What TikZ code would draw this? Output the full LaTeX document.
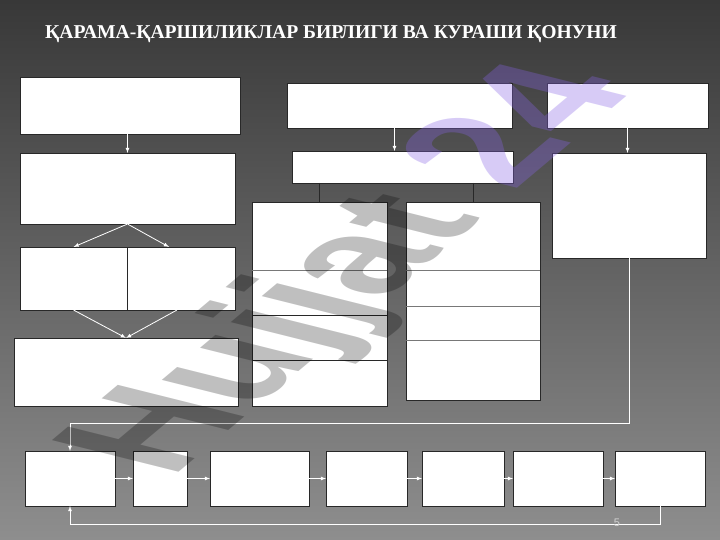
\documentclass[tikz,border=0pt]{standalone}
\usepackage{fontspec}
\setmainfont{Liberation Serif}
\newfontfamily\marksans{Liberation Sans}
\usetikzlibrary{arrows,positioning}
\definecolor{boxline}{RGB}{40,40,40}
\definecolor{splitline}{RGB}{120,120,120}
\definecolor{bgtop}{RGB}{56,56,56}
\definecolor{bgbottom}{RGB}{142,142,142}
\definecolor{markpurple}{RGB}{135,100,230}
\tikzset{
  cell/.style={draw=boxline, fill=white, line width=0.8pt, inner sep=0pt, outer sep=0pt, anchor=north west},
  flow/.style={draw=white, line width=0.8pt, -latex},
  link/.style={draw=boxline, line width=0.8pt}
}

\begin{document}
\begin{tikzpicture}[x=1pt, y=-1pt]
\shade[top color=bgtop, bottom color=bgbottom] (0,0) rectangle (720,540);
\useasboundingbox (0,0) rectangle (720,540);

\node[anchor=base west, inner sep=0pt, text=white, font=\bfseries\fontsize{19.6}{19.6}\selectfont] (title) at (45,38.5) {ҚАРАМА-ҚАРШИЛИКЛАР БИРЛИГИ ВА КУРАШИ ҚОНУНИ};

\node[cell, minimum width=220pt, minimum height=57pt] (top1) at (20,77) {};
\node[cell, minimum width=225pt, minimum height=45pt] (top2) at (287,83) {};
\node[cell, minimum width=161pt, minimum height=45pt] (top3) at (547,83) {};

\node[cell, minimum width=215pt, minimum height=71pt] (mid1) at (20,153) {};
\node[cell, minimum width=221pt, minimum height=32pt] (mid2) at (292,151) {};
\node[cell, minimum width=154pt, minimum height=105pt] (mid3) at (552,153) {};

\node[cell, minimum width=107pt, minimum height=63pt] (pairL) at (20,247) {};
\node[cell, minimum width=108pt, minimum height=63pt, right=0pt of pairL] (pairR) {};
\node[cell, minimum width=224pt, minimum height=68pt] (sum) at (14,338) {};

\node[cell, minimum width=135pt, minimum height=68pt] (colL1) at (252,202) {};
\node[cell, minimum width=135pt, minimum height=45pt, below=0pt of colL1] (colL2) {};
\node[cell, minimum width=135pt, minimum height=45pt, below=0pt of colL2] (colL3) {};
\node[cell, minimum width=135pt, minimum height=46pt, below=0pt of colL3] (colL4) {};
\node[cell, minimum width=134pt, minimum height=68pt] (colR1) at (406,202) {};
\node[cell, minimum width=134pt, minimum height=36pt, below=0pt of colR1] (colR2) {};
\node[cell, minimum width=134pt, minimum height=34pt, below=0pt of colR2] (colR3) {};
\node[cell, minimum width=134pt, minimum height=60pt, below=0pt of colR3] (colR4) {};
\draw[splitline, line width=0.8pt] (colL1.south west) -- (colL1.south east);
\draw[splitline, line width=0.8pt] (colR1.south west) -- (colR1.south east);
\draw[splitline, line width=0.8pt] (colR2.south west) -- (colR2.south east);
\draw[splitline, line width=0.8pt] (colR3.south west) -- (colR3.south east);

\node[cell, minimum width=90pt, minimum height=55pt] (s1) at (25,451) {};
\node[cell, minimum width=54pt, minimum height=55pt, right=18pt of s1] (s2) {};
\node[cell, minimum width=99pt, minimum height=55pt, right=23pt of s2] (s3) {};
\node[cell, minimum width=81pt, minimum height=55pt, right=17pt of s3] (s4) {};
\node[cell, minimum width=82pt, minimum height=55pt, right=15pt of s4] (s5) {};
\node[cell, minimum width=90pt, minimum height=55pt, right=9pt of s5] (s6) {};
\node[cell, minimum width=90pt, minimum height=55pt, right=12pt of s6] (s7) {};

\draw[flow] (top1.south -| mid1.north) -- (mid1.north);
\draw[flow] ([xshift=-5pt]top2.south) -- ([xshift=-5pt]top2.south |- mid2.north);
\draw[flow] (top3.south) -- (top3.south |- mid3.north);
\draw[flow] (mid1.south) -- (pairL.north);
\draw[flow] (mid1.south) -- ([xshift=-12pt]pairR.north);
\draw[flow] (pairL.south) -- (sum.north);
\draw[flow] ([xshift=-4pt]pairR.south) -- (sum.north);
\draw[link] (mid2.south -| colL1.north) -- (colL1.north);
\draw[link] (mid2.south -| colR1.north) -- (colR1.north);
\draw[flow] (mid3.south) |- ([yshift=28pt]s1.north) -- (s1.north);
\draw[flow] (s1.east) -- (s2.west);
\draw[flow] (s2.east) -- (s3.west);
\draw[flow] (s3.east) -- (s4.west);
\draw[flow] (s4.east) -- (s5.west);
\draw[flow] (s5.east) -- (s6.west);
\draw[flow] (s6.east) -- (s7.west);
\draw[flow] (s7.south) -- ++(0,18) -| (s1.south);

\node[text=gray!35, font=\marksans\fontsize{11}{11}\selectfont] (pagenum) at (617,523) {5};

\begin{scope}[shift={(171,479)}, cm={1.12,0.94,-1.84,0.46,(0,0)}]
\node[anchor=base west, inner sep=0pt, transform shape, text=black, font=\marksans\bfseries\fontsize{100}{100}\selectfont] (mark) at (0,0) {{\pgfsetfillopacity{0.25}Hujjat }{\pgfsetfillopacity{0.33}\color{markpurple}24}};
\end{scope}
\end{tikzpicture}
\end{document}
